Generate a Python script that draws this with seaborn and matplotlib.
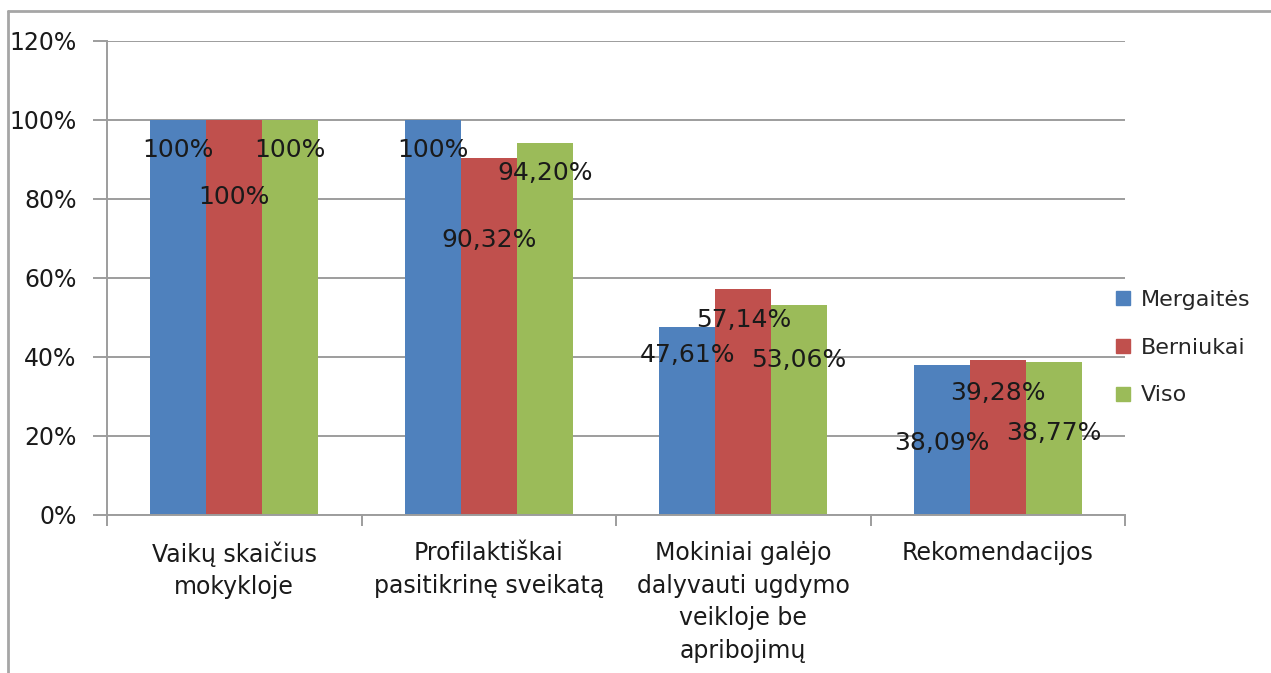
import matplotlib
matplotlib.use("Agg")
import matplotlib.pyplot as plt
import seaborn as sns
import pandas as pd
from matplotlib.lines import Line2D

categories = ["Vaikų skaičius\nmokykloje",
              "Profilaktiškai\npasitikrinę sveikatą",
              "Mokiniai galėjo\ndalyvauti ugdymo\nveikloje be\napribojimų",
              "Rekomendacijos"]
series = ["Mergaitės", "Berniukai", "Viso"]
mergaites = [100, 100, 47.61, 38.09]
berniukai = [100, 90.32, 57.14, 39.28]
viso = [100, 94.20, 53.06, 38.77]
y_ticks = [0, 20, 40, 60, 80, 100, 120]

# label placement (data units, where the labels were moved in the original)
label_y = {
    "Mergaitės": [92.4, 92.4, 40.5, 18.2],
    "Berniukai": [80.5, 69.6, 49.4, 30.9],
    "Viso": [92.4, 86.6, 39.2, 20.8],
}

colors = ["#4F81BD", "#C0504D", "#9BBB59"]

rows = []
for s, vals in zip(series, [mergaites, berniukai, viso]):
    for c, v in zip(categories, vals):
        rows.append({"cat": c, "series": s, "value": v})
df = pd.DataFrame(rows)

sns.set_style("white")
plt.rcParams['font.family'] = ['DejaVu Sans']

fig = plt.figure(figsize=(12.71, 6.73), dpi=100)
ax = fig.add_axes([107/1271, 1-515/673, (1125-107)/1271, (515-41)/673])

sns.barplot(data=df, x="cat", y="value", hue="series", order=categories,
            hue_order=series, palette=colors, width=0.66, gap=0,
            saturation=1, ax=ax, legend=True, linewidth=0)

grid_c = "#9d9d9d"
ax.set_ylim(0, 120)
ax.set_xlim(-0.5, len(categories) - 0.5)
ax.set_yticks(y_ticks)
ax.set_yticklabels([f"{t}%" for t in y_ticks], fontsize=17, color="#1a1a1a")
ax.set_xlabel("")
ax.set_ylabel("")
ax.yaxis.grid(True, color=grid_c, linewidth=1.4)
ax.set_axisbelow(True)
for sp in ["top", "right"]:
    ax.spines[sp].set_visible(False)
ax.spines["left"].set_color(grid_c)
ax.spines["left"].set_linewidth(1.4)
ax.spines["bottom"].set_color(grid_c)
ax.spines["bottom"].set_linewidth(1.4)
ax.tick_params(axis="y", length=10, width=1.4, color=grid_c, pad=12, left=True)
ax.set_xticks(range(len(categories)))
ax.set_xticklabels(categories, fontsize=17, color="#1a1a1a", linespacing=1.45, va="top")
ax.tick_params(axis="x", length=0, pad=19)
# category boundary ticks
ax.set_xticks([i - 0.5 for i in range(len(categories) + 1)], minor=True)
ax.tick_params(axis="x", which="minor", length=8, width=1.4, color=grid_c, bottom=True)

# data labels
bar_containers = ax.containers
for cont, s, vals in zip(bar_containers, series, [mergaites, berniukai, viso]):
    for patch, v, ly in zip(cont.patches, vals, label_y[s]):
        cx = patch.get_x() + patch.get_width() / 2
        txt = "100%" if v == 100 else f"{v:.2f}".replace(".", ",") + "%"
        ax.text(cx, ly, txt, ha="center", va="center", fontsize=18,
                color="#1a1a1a")

handles = [plt.Rectangle((0, 0), 1, 1, color=c) for c in colors]
ax.legend(handles, series, loc="center left", bbox_to_anchor=(0.972, 0.353),
          frameon=False, fontsize=16, handlelength=0.6, handleheight=0.6,
          labelspacing=1.25, handletextpad=0.5)

# outer chart border (partially visible)
fig.add_artist(Line2D([8/1271, 8/1271], [1-11/673, 0], transform=fig.transFigure,
                      color="#a6a6a6", linewidth=2))
fig.add_artist(Line2D([8/1271, 1], [1-11/673, 1-11/673], transform=fig.transFigure,
                      color="#a6a6a6", linewidth=2))

fig.savefig("out.png", dpi=100)
